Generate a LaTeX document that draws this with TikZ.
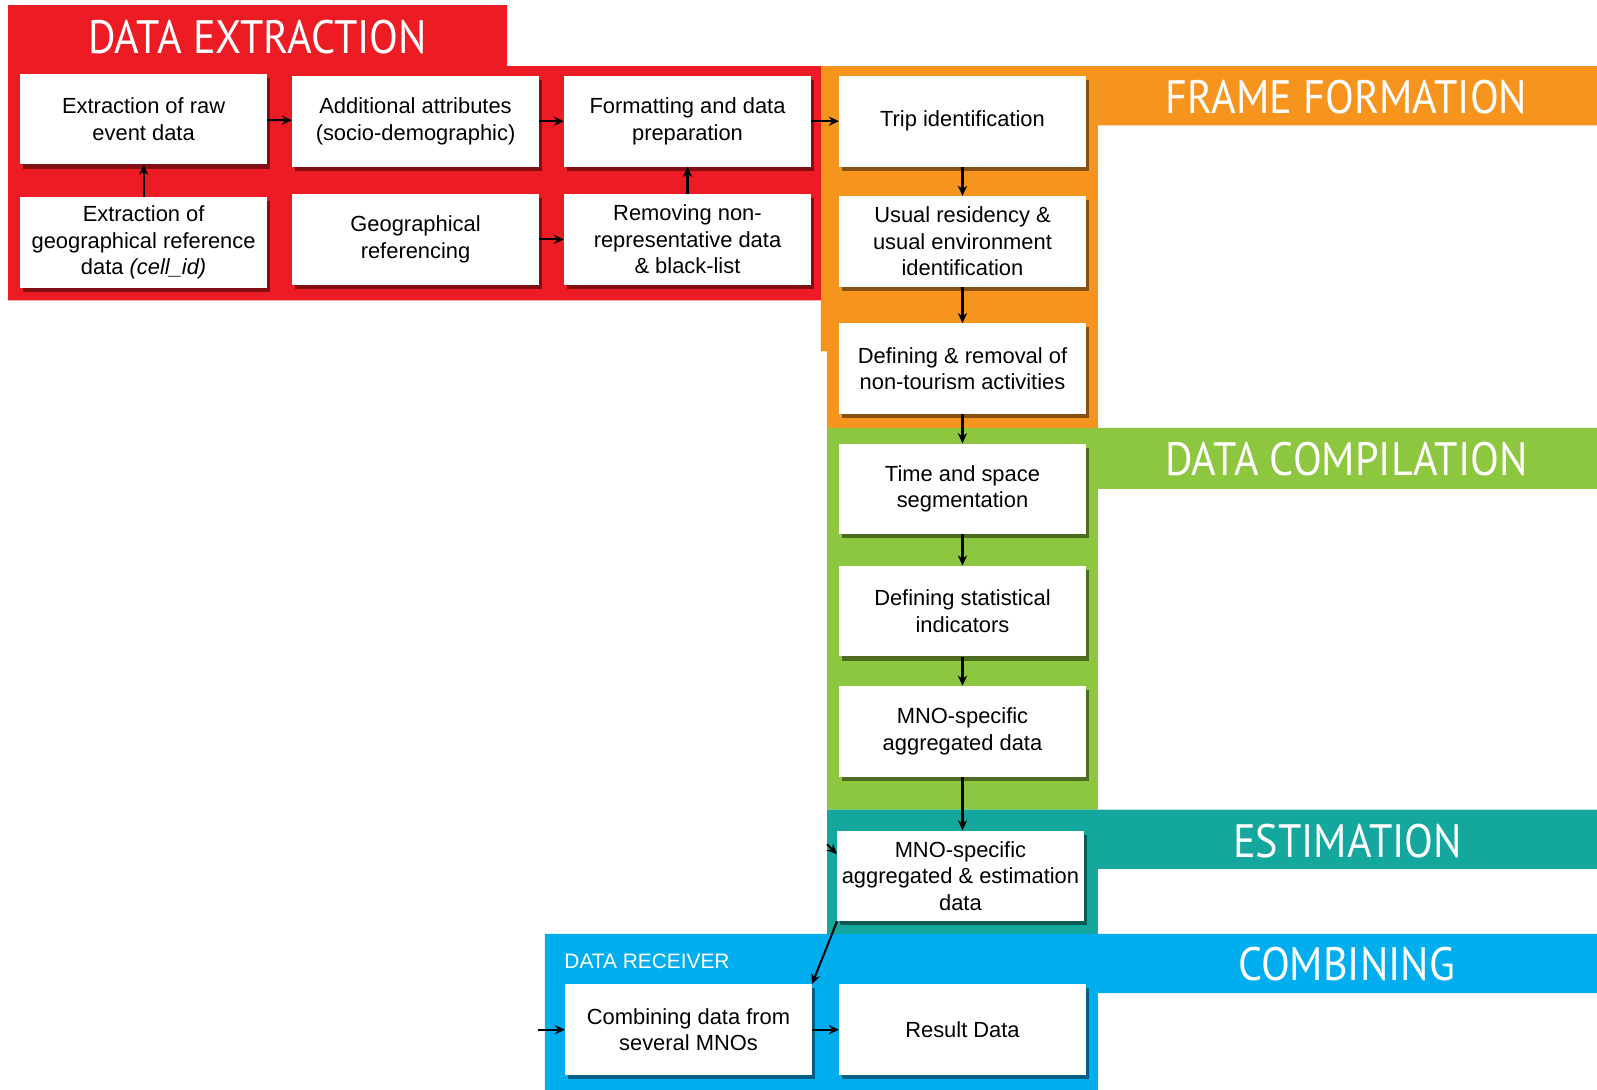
\documentclass[tikz,border=0pt]{standalone}
\usepackage{fontspec}
\setmainfont{Liberation Sans}
\newfontfamily\bandfont[FakeStretch=0.9]{PT Sans}
\usetikzlibrary{arrows.meta, shadows}
\definecolor{cextr}{RGB}{237,28,36}
\definecolor{cframe}{RGB}{247,148,30}
\definecolor{ccomp}{RGB}{141,198,63}
\definecolor{cestim}{RGB}{20,167,157}
\definecolor{ccomb}{RGB}{0,174,239}

\begin{document}
\begin{tikzpicture}[x=1pt, y=-1pt,
  font=\fontsize{21.5}{26}\selectfont,
  stage/.style={fill=white, minimum width=242pt, minimum height=89pt,
                inner sep=2pt, align=center,
                drop shadow={shadow xshift=3pt, shadow yshift=-4pt,
                             opacity=.45, fill=black}},
  band/.style={text=white, inner sep=0pt, font=\bandfont\fontsize{46}{46}\selectfont},
  link/.style={-{Stealth[length=10pt, width=9pt]}, line width=2pt},
]
\useasboundingbox (0,0) rectangle (1568,1070);

% coloured stage areas
\fill[cframe] (806,65) -- (1568,65) -- (1568,123) -- (1078,123) -- (1078,420)
  -- (812,420) -- (812,345) -- (806,345) -- cycle;
\fill[cextr] (8,5) -- (498,5) -- (498,65) -- (806,65) -- (806,295) -- (8,295) -- cycle;
\fill[ccomp] (812,420) -- (1568,420) -- (1568,480) -- (1078,480) -- (1078,795)
  -- (812,795) -- cycle;
\fill[cestim] (812,795) -- (1568,795) -- (1568,853) -- (1078,853) -- (1078,917)
  -- (812,917) -- cycle;
\fill[ccomb] (535,917) -- (1568,917) -- (1568,975) -- (1078,975) -- (1078,1070)
  -- (535,1070) -- cycle;

\node[band] (tExtr) at (253,36) {DATA EXTRACTION};
\node[band] (tFrame) at (1322,95) {FRAME FORMATION};
\node[band] (tComp) at (1322,451) {DATA COMPILATION};
\node[band] (tEstim) at (1323,826) {ESTIMATION};
\node[band] (tComb) at (1322,947) {COMBINING};
\node[text=white, anchor=west, inner sep=0pt, font=\fontsize{20.5}{20}\selectfont]
  (tRecv) at (554,944) {DATA RECEIVER};

% data extraction
\node[stage] (raw) at (141,117) {Extraction of raw\\event data};
\node[stage] (attr) at (408,119) {Additional attributes\\(socio-demographic)};
\node[stage] (fmt) at (675,119) {Formatting and data\\preparation};
\node[stage] (geoRef) at (141,238) {Extraction of\\geographical reference\\data \textit{(cell\_id)}};
\node[stage] (geo) at (408,235) {Geographical\\referencing};
\node[stage] (clean) at (675,235) {Removing non-\\representative data\\\& black-list};

% frame formation
\node[stage] (trip) at (945,119) {Trip identification};
\node[stage] (usual) at (945,237) {Usual residency \&\\usual environment\\identification};
\node[stage] (nonTour) at (945,362) {Defining \& removal of\\non-tourism activities};

% data compilation
\node[stage] (seg) at (945,480) {Time and space\\segmentation};
\node[stage] (ind) at (945,600) {Defining statistical\\indicators};
\node[stage] (agg) at (945,718) {MNO-specific\\aggregated data};

% estimation and combining
\node[stage] (est) at (943,860) {MNO-specific\\aggregated \& estimation\\data};
\node[stage] (combine) at (676,1011) {Combining data from\\several MNOs};
\node[stage] (result) at (945,1011) {Result Data};

\coordinate (estIn) at (812,829);
\coordinate (combIn) at (528,1011);

\draw[link] (geoRef) -- (raw);
\draw[link] (raw) -- (attr);
\draw[link] (attr) -- (fmt);
\draw[link] (clean) -- (fmt);
\draw[link] (geo) -- (clean);
\draw[link] (fmt) -- (trip);
\draw[link] (trip) -- (usual);
\draw[link] (usual) -- (nonTour);
\draw[link] (nonTour) -- (seg);
\draw[link] (seg) -- (ind);
\draw[link] (ind) -- (agg);
\draw[link] (agg.south) -- (agg.south |- est.north);
\draw[link] (estIn) -- (est.170);
\draw[link] (est.south west) -- (combine.north east);
\draw[link] (combIn) -- (combine);
\draw[link] (combine) -- (result);
\end{tikzpicture}
\end{document}
